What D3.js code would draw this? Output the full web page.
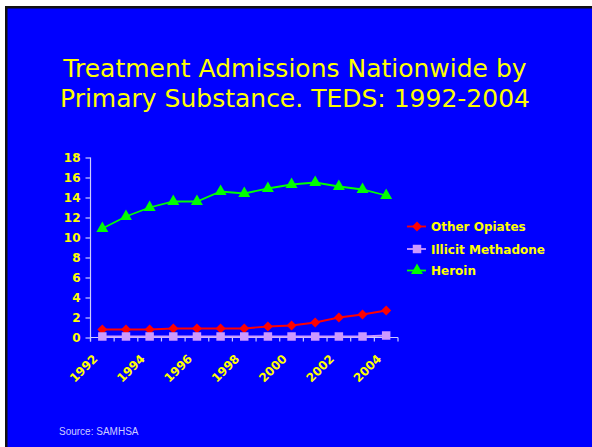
<!DOCTYPE html>
<html>
<head>
<meta charset="utf-8">
<script src="https://cdn.jsdelivr.net/npm/d3@7/dist/d3.min.js"></script>
<style>
  html, body { margin: 0; padding: 0; background: #ffffff; }
  svg { display: block; }
</style>
</head>
<body>
<svg id="chart" width="592" height="447"></svg>
<script>
// Admissions (percent) by primary substance, TEDS 1992-2004
const years = [1992, 1993, 1994, 1995, 1996, 1997, 1998, 1999, 2000, 2001, 2002, 2003, 2004];
const otherOpiates = [0.8, 0.8, 0.8, 0.9, 0.9, 0.9, 0.9, 1.1, 1.2, 1.5, 2.0, 2.3, 2.7];
const illicitMethadone = [0.1, 0.1, 0.1, 0.1, 0.1, 0.1, 0.1, 0.1, 0.1, 0.1, 0.1, 0.1, 0.2];
const heroin = [10.9, 12.1, 13.0, 13.6, 13.6, 14.6, 14.4, 14.9, 15.3, 15.5, 15.1, 14.8, 14.2];
const yTicks = [0, 2, 4, 6, 8, 10, 12, 14, 16, 18];
const xLabelYears = [1992, 1994, 1996, 1998, 2000, 2002, 2004];

// square-based diamond (a square turned 45 degrees)
const diamond = {
  draw(ctx, size) {
    const r = Math.sqrt(size / 2);
    ctx.moveTo(0, -r); ctx.lineTo(r, 0); ctx.lineTo(0, r); ctx.lineTo(-r, 0); ctx.closePath();
  }
};

const series = [
  { name: "Other Opiates", values: otherOpiates, color: "#ff0000", symbol: diamond, size: 50 },
  { name: "Illicit Methadone", values: illicitMethadone, color: "#cc99ff", symbol: d3.symbolSquare, size: 72 },
  { name: "Heroin", values: heroin, color: "#00ff00", symbol: d3.symbolTriangle, size: 62 }
];

const svg = d3.select("#chart");
const W = 592, H = 447;
const yellow = "#ffff00";
const axisColor = "#ccccff";

// slide frame: white margin, dark edge, blue field
svg.append("rect").attr("width", W).attr("height", H).attr("fill", "#ffffff");
svg.append("rect").attr("x", 5).attr("y", 6).attr("width", W - 5).attr("height", H - 6).attr("fill", "#111111");
svg.append("rect").attr("x", 7.5).attr("y", 8.5).attr("width", W - 7.5).attr("height", H - 8.5).attr("fill", "#0000ff");

// title
const title = svg.append("text")
  .attr("text-anchor", "middle")
  .attr("font-family", "'DejaVu Sans', Verdana, sans-serif")
  .attr("font-size", 25)
  .attr("fill", yellow);
title.append("tspan").attr("x", 295).attr("y", 77).text("Treatment Admissions Nationwide by");
title.append("tspan").attr("x", 295).attr("y", 106.5).text("Primary Substance. TEDS: 1992-2004");

// scales
const x = d3.scaleBand().domain(years).range([90.5, 398]).padding(0);
const cx = d => x(d) + x.bandwidth() / 2;
const y = d3.scaleLinear().domain([0, 18]).range([337.5, 157.5]);

// y axis
const yAxis = svg.append("g")
  .attr("transform", "translate(90.5,0)")
  .call(d3.axisLeft(y).tickValues(yTicks).tickSize(5).tickPadding(5).tickFormat(d3.format("d")));
yAxis.select(".domain").attr("stroke", axisColor).attr("stroke-width", 1.2)
  .attr("d", `M0,${y(18)}V${y(0) + 4}`);
yAxis.selectAll(".tick line").attr("stroke", axisColor).attr("stroke-width", 1.2);
yAxis.selectAll(".tick text")
  .attr("fill", yellow)
  .attr("font-family", "'DejaVu Sans', Verdana, sans-serif")
  .attr("font-weight", "bold")
  .attr("font-size", 12);

// x axis: line with ticks at category boundaries
const xAxis = svg.append("g");
xAxis.append("line")
  .attr("x1", x.range()[0]).attr("x2", x.range()[1])
  .attr("y1", y(0)).attr("y2", y(0))
  .attr("stroke", axisColor).attr("stroke-width", 1.2);
const boundaries = years.map(d => x(d)).concat([x.range()[1]]);
xAxis.selectAll("line.tick")
  .data(boundaries)
  .join("line")
  .attr("class", "tick")
  .attr("x1", d => d).attr("x2", d => d)
  .attr("y1", y(0)).attr("y2", y(0) + 4)
  .attr("stroke", axisColor).attr("stroke-width", 1.2);
xAxis.selectAll("text")
  .data(xLabelYears)
  .join("text")
  .attr("transform", d => `translate(${cx(d) - 4},${y(0) + 22}) rotate(-45)`)
  .attr("text-anchor", "end")
  .attr("fill", yellow)
  .attr("font-family", "'DejaVu Sans', Verdana, sans-serif")
  .attr("font-weight", "bold")
  .attr("font-size", 12)
  .text(d => d);

// series lines and markers
const line = d3.line().x((d, i) => cx(years[i])).y(d => y(d));
series.forEach(s => {
  const g = svg.append("g");
  g.append("path")
    .datum(s.values)
    .attr("d", line)
    .attr("fill", "none")
    .attr("stroke", s.color)
    .attr("stroke-width", 1.8);
  g.selectAll("path.marker")
    .data(s.values)
    .join("path")
    .attr("class", "marker")
    .attr("d", d3.symbol().type(s.symbol).size(s.size))
    .attr("transform", (d, i) => `translate(${cx(years[i])},${y(d)})`)
    .attr("fill", s.color);
});

// legend
const legend = svg.append("g").attr("transform", "translate(407,0)");
const legendY = [226.5, 249, 270.5];
series.forEach((s, i) => {
  const row = legend.append("g").attr("transform", `translate(0,${legendY[i]})`);
  row.append("line").attr("x1", 0).attr("x2", 19).attr("y1", 0).attr("y2", 0)
    .attr("stroke", s.color).attr("stroke-width", 1.8);
  row.append("path").attr("d", d3.symbol().type(s.symbol).size(s.size)())
    .attr("transform", "translate(10,0)").attr("fill", s.color);
  row.append("text").attr("x", 24).attr("y", 4.5)
    .attr("fill", yellow)
    .attr("font-family", "'DejaVu Sans', Verdana, sans-serif")
    .attr("font-weight", "bold")
    .attr("font-size", 12)
    .text(s.name);
});

// source note
svg.append("text")
  .attr("x", 59).attr("y", 435)
  .attr("fill", "#ccccff")
  .attr("font-family", "'Liberation Sans', Arial, sans-serif")
  .attr("font-size", 10)
  .text("Source: SAMHSA");
</script>
</body>
</html>
